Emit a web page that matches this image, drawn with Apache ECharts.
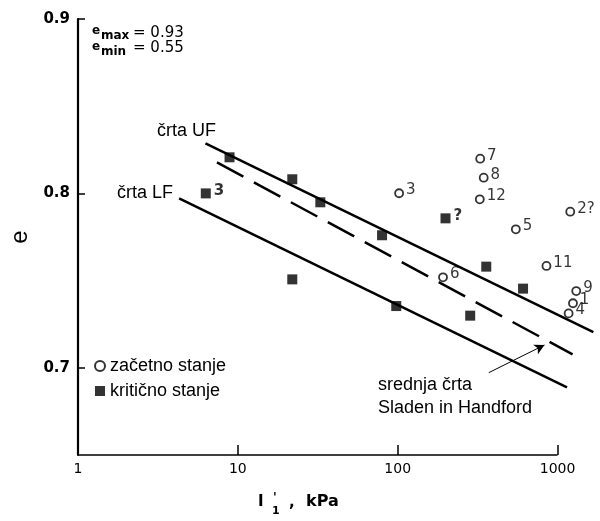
<!DOCTYPE html>
<html>
<head>
<meta charset="utf-8">
<script src="https://cdn.jsdelivr.net/npm/echarts@6/dist/echarts.min.js"></script>
<style>html,body{margin:0;padding:0;background:#fff}#c{width:600px;height:521px}</style>
</head>
<body>
<div id="c"></div>
<script>
// critical state (filled squares)
const critX = [6.3, 8.87, 21.9, 32.8, 79.8, 21.9, 97.9, 199, 358, 608, 284];
const critY = [0.800, 0.8207, 0.8081, 0.7949, 0.776, 0.7507, 0.7354, 0.7857, 0.758, 0.7454, 0.7299];
const critLabels = ['3', '', '', '', '', '', '', '?', '', '', ''];
// initial state (open circles)
const initX = [102, 328, 345, 326, 548, 1200, 192, 852, 1308, 1248, 1172];
const initY = [0.8001, 0.8199, 0.809, 0.7966, 0.7794, 0.7895, 0.7519, 0.7584, 0.744, 0.737, 0.7312];
const initLabels = ['3', '7', '8', '12', '5', '2?', '6', '11', '9', '1', '4'];
// boundary lines (endpoints)
const lineUFx = [6.27, 1674];
const lineUFy = [0.8287, 0.7204];
const lineLFx = [4.29, 1145];
const lineLFy = [0.7972, 0.6888];
const lineMidX = [7.40, 1241];
const lineMidY = [0.8178, 0.7077];
// arrow to mean line
const arrowX = [371, 828];
const arrowY = [0.6972, 0.7131];
// axes
const xMin = 1, xAxisEnd = 1000, xMax = 1800;
const yMin = 0.65, yMax = 0.9;
const xTicks = [1, 10, 100, 1000];
const yTicks = [0.7, 0.8, 0.9];

const zip = (xs, ys) => xs.map((x, i) => [x, ys[i]]);
const FONT = 'Liberation Sans';
const NUMFONT = 'DejaVu Sans';

const chart = echarts.init(document.getElementById('c'), null, {renderer: 'canvas'});
const lineStyleBase = {color: '#000', width: 2.5};

chart.setOption({
  animation: false,
  backgroundColor: '#fff',
  grid: {left: 73, right: 1.6, top: 19, bottom: 66},
  legend: {
    orient: 'vertical', left: 89, top: 352, itemWidth: 10, itemHeight: 10, itemGap: 7,
    textStyle: {fontFamily: FONT, fontSize: 18, color: '#000'},
    data: [
      {name: 'začetno stanje', icon: 'circle', itemStyle: {color: '#fff', borderColor: '#000', borderWidth: 2}},
      {name: 'kritično stanje', icon: 'rect'}
    ]
  },
  xAxis: {
    type: 'log', logBase: 10, min: xMin, max: xMax,
    axisLine: {show: false},
    axisTick: {show: true, inside: true, length: 10, customValues: xTicks, lineStyle: {color: '#000', width: 1.5}},
    axisLabel: {color: '#000', fontFamily: NUMFONT, fontSize: 14, margin: 7,
      customValues: xTicks, formatter: v => String(Math.round(v))},
    splitLine: {show: false}, minorTick: {show: false}
  },
  yAxis: {
    type: 'value', min: yMin, max: yMax,
    name: 'e', nameLocation: 'middle', nameRotate: 90, nameGap: 46,
    nameTextStyle: {fontFamily: FONT, fontSize: 24, color: '#000'},
    axisLine: {show: true, lineStyle: {color: '#000', width: 2.2}},
    axisTick: {show: true, inside: true, length: 7, customValues: yTicks, lineStyle: {color: '#000', width: 1.5}},
    axisLabel: {color: '#000', fontFamily: NUMFONT, fontWeight: 'bold', fontSize: 15, margin: 8,
      customValues: yTicks, formatter: v => v.toFixed(1)},
    splitLine: {show: false}
  },
  series: [
    {
      type: 'line', name: 'UF', data: zip(lineUFx, lineUFy), showSymbol: false, clip: false,
      lineStyle: lineStyleBase, silent: true,
      // x-axis baseline, from 1 to 1000 only
      markLine: {
        silent: true, symbol: 'none', label: {show: false},
        lineStyle: {color: '#000', width: 1.5, type: 'solid'},
        data: [[{coord: [xMin, yMin]}, {coord: [xAxisEnd, yMin]}]]
      }
    },
    {
      type: 'line', name: 'LF', data: zip(lineLFx, lineLFy), showSymbol: false, clip: false,
      lineStyle: lineStyleBase, silent: true
    },
    {
      type: 'line', name: 'mid', data: zip(lineMidX, lineMidY), showSymbol: false, clip: false,
      lineStyle: Object.assign({}, lineStyleBase, {type: [30, 12]}), silent: true,
      markLine: {
        silent: true, symbol: ['none', 'arrow'], symbolSize: [8, 10],
        lineStyle: {color: '#000', width: 1, type: 'solid'}, label: {show: false},
        data: [[{coord: [arrowX[0], arrowY[0]]}, {coord: [arrowX[1], arrowY[1]]}]]
      }
    },
    {
      type: 'scatter', name: 'začetno stanje', clip: false,
      data: initX.map((x, i) => ({value: [x, initY[i]], label: {formatter: initLabels[i]}})),
      symbol: 'circle', symbolSize: 8,
      itemStyle: {color: '#fff', borderColor: '#000', borderWidth: 1.8},
      label: {show: true, position: 'right', distance: 2, offset: [0, -3],
        fontFamily: NUMFONT, fontSize: 15, color: '#000'}
    },
    {
      type: 'scatter', name: 'kritično stanje', clip: false,
      data: critX.map((x, i) => ({value: [x, critY[i]], label: {formatter: critLabels[i]}})),
      symbol: 'rect', symbolSize: 10,
      itemStyle: {color: '#000'},
      label: {show: true, position: 'right', distance: 3, offset: [0, -2],
        fontFamily: NUMFONT, fontWeight: 'bold', fontSize: 15, color: '#000'}
    }
  ],
  graphic: [
    {type: 'text', left: 92, top: 25, style: {text: 'e', font: 'bold 12px "DejaVu Sans"', fill: '#000'}},
    {type: 'text', left: 101, top: 30, style: {text: 'max', font: 'bold 12px "DejaVu Sans"', fill: '#000'}},
    {type: 'text', left: 133, top: 26, style: {text: '= 0.93', font: '15px "DejaVu Sans"', fill: '#000'}},
    {type: 'text', left: 92, top: 41, style: {text: 'e', font: 'bold 12px "DejaVu Sans"', fill: '#000'}},
    {type: 'text', left: 101, top: 46, style: {text: 'min', font: 'bold 12px "DejaVu Sans"', fill: '#000'}},
    {type: 'text', left: 133, top: 41, style: {text: '= 0.55', font: '15px "DejaVu Sans"', fill: '#000'}},
    {type: 'text', left: 157, top: 122, style: {text: 'črta UF', font: '18px "Liberation Sans"', fill: '#000'}},
    {type: 'text', left: 117, top: 184, style: {text: 'črta LF', font: '18px "Liberation Sans"', fill: '#000'}},
    {type: 'text', left: 378, top: 376, style: {text: 'srednja črta', font: '18px "Liberation Sans"', fill: '#000'}},
    {type: 'text', left: 378, top: 399, style: {text: 'Sladen in Handford', font: '18px "Liberation Sans"', fill: '#000'}},
    {type: 'text', left: 258, top: 495, style: {text: 'I', font: 'bold 15px "DejaVu Sans"', fill: '#000'}},
    {type: 'text', left: 273, top: 492, style: {text: "'", font: 'bold 12px "DejaVu Sans"', fill: '#000'}},
    {type: 'text', left: 272, top: 506, style: {text: '1', font: 'bold 11px "DejaVu Sans"', fill: '#000'}},
    {type: 'text', left: 289, top: 496, style: {text: ',', font: 'bold 15px "DejaVu Sans"', fill: '#000'}},
    {type: 'text', left: 306, top: 494, style: {text: 'kPa', font: 'bold 16px "DejaVu Sans"', fill: '#000'}}
  ]
});
</script>
</body>
</html>
